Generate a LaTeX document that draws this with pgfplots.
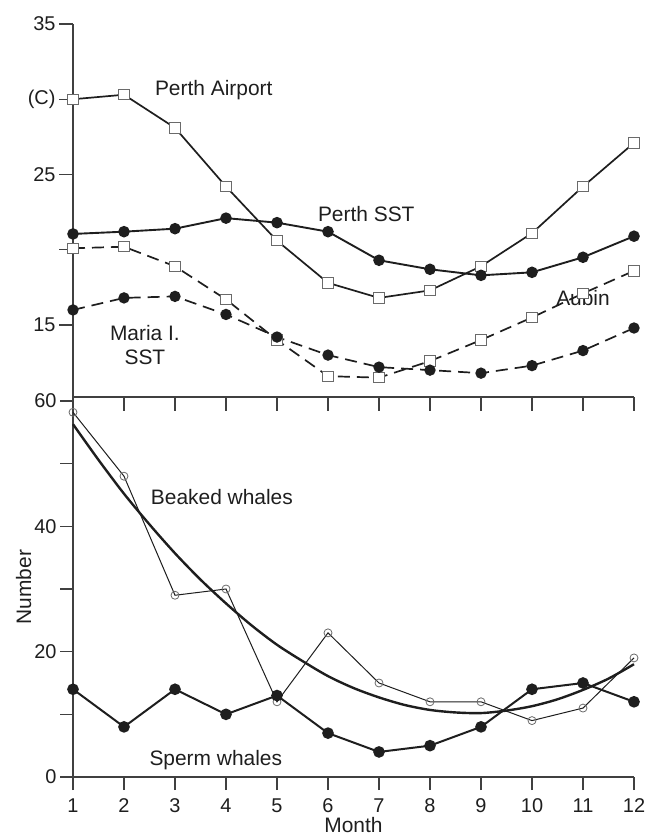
\documentclass[border=0pt]{standalone}
\usepackage{fontspec}
\setmainfont{Liberation Sans}
\usepackage{pgfplots}
\pgfplotsset{compat=1.18}
\definecolor{ink}{HTML}{1E1E1E}
\definecolor{mk}{HTML}{6A6A6A}
\begin{document}
\begin{tikzpicture}
\useasboundingbox (0bp,0bp) rectangle (648bp,837bp);
\pgfplotsset{
  base/.style={
    scale only axis, width=561bp, xmin=1, xmax=12, enlargelimits=false,
    clip=false, axis x line*=bottom, axis y line*=left,
    axis line style={draw=ink!85, line width=1.1bp},
    tick style={draw=ink!85, line width=1.1bp},
    tick align=outside, major tick length=13bp,
    /pgf/number format/assume math mode=true,
    ticklabel style={font=\fontsize{20}{22}\selectfont, text=ink},
    label style={font=\fontsize{21}{24}\selectfont, text=ink},
    xtick={1,...,12},
  },
  sq/.style={mark=square*, mark size=5.2bp, mark options={solid, fill=white, draw=mk, line width=0.9bp}},
  dot/.style={mark=*, mark size=4.8bp, mark options={solid, fill=ink, draw=ink}},
  dsh/.style={dash pattern=on 12bp off 7bp},
}
\begin{axis}[base, at={(73bp,440bp)}, anchor=south west, height=373bp,
  ymin=10.216, ymax=35, xticklabels={}, major tick length=14bp,
  ytick={15,20,25,30,35}, yticklabels={15,,25,(C),35}]
% Perth Airport
\addplot[ink, line width=1.7bp, sq] coordinates {
(1,30.0) (2,30.3) (3,28.1) (4,24.2) (5,20.6) (6,17.8) (7,16.8) (8,17.3) (9,18.9) (10,21.1) (11,24.2) (12,27.1)};
% Perth SST
\addplot[ink, line width=1.9bp, dot] coordinates {
(1,21.05) (2,21.2) (3,21.4) (4,22.1) (5,21.8) (6,21.2) (7,19.3) (8,18.7) (9,18.3) (10,18.5) (11,19.5) (12,20.9)};
% Aubin
\addplot[ink, line width=1.7bp, dsh, sq] coordinates {
(1,20.1) (2,20.2) (3,18.9) (4,16.7) (5,14.0) (6,11.6) (7,11.5) (8,12.6) (9,14.0) (10,15.5) (11,17.1) (12,18.6)};
% Maria I. SST
\addplot[ink, line width=1.7bp, dsh, dot] coordinates {
(1,16.0) (2,16.8) (3,16.9) (4,15.7) (5,14.2) (6,13.0) (7,12.2) (8,12.0) (9,11.8) (10,12.3) (11,13.3) (12,14.8)};
\node[font=\fontsize{21}{24}\selectfont, text=ink] at (axis cs:3.76,30.6) {Perth Airport};
\node[font=\fontsize{21}{24}\selectfont, text=ink] at (axis cs:6.75,22.4) {Perth SST};
\node[font=\fontsize{21}{24}\selectfont, text=ink] at (axis cs:11.0,16.8) {Aubin};
\node[font=\fontsize{21}{24}\selectfont, text=ink, align=center] at (axis cs:2.41,13.65) {Maria I.\\SST};
\end{axis}
\begin{axis}[base, at={(73bp,60bp)}, anchor=south west, height=380bp,
  ymin=0, ymax=60.64,
  ytick={0,10,...,60}, yticklabels={0,,20,,40,,60},
  xticklabel style={yshift=-5bp},
  xlabel={Month}, ylabel={Number},
  xlabel style={at={(axis description cs:0.5,0)}, anchor=center, yshift=-48bp},
  ylabel style={at={(axis description cs:-0.088,0.5)}, anchor=center}]
% Beaked whales fitted curve
\addplot[ink, line width=2.4bp, smooth] coordinates {
(1,56.3) (1.5,50.6) (2,45.2) (2.5,40.3) (3,35.7) (3.5,31.5) (4,27.7) (4.5,24.2) (5,21.1) (5.5,18.5) (6,16.1) (6.5,14.2) (7,12.7) (7.5,11.5) (8,10.7) (8.5,10.3) (9,10.2) (9.5,10.6) (10,11.3) (10.5,12.4) (11,13.9) (11.5,15.7) (12,18.0)};
% Beaked whales
\addplot[ink, line width=1.0bp, mark=o, mark size=4bp, mark options={solid, draw=mk, line width=0.8bp}] coordinates {
(1,58.2) (2,48.0) (3,29.0) (4,30.0) (5,12.0) (6,23.0) (7,15.0) (8,12.0) (9,12.0) (10,9.0) (11,11.0) (12,19.0)};
% Sperm whales
\addplot[ink, line width=2.0bp, dot] coordinates {
(1,14) (2,8) (3,14) (4,10) (5,13) (6,7) (7,4) (8,5) (9,8) (10,14) (11,15) (12,12)};
\node[font=\fontsize{21}{24}\selectfont, text=ink] at (axis cs:3.92,44.7) {Beaked whales};
\node[font=\fontsize{21}{24}\selectfont, text=ink] at (axis cs:3.8,2.7) {Sperm whales};
\end{axis}
\end{tikzpicture}
\end{document}
